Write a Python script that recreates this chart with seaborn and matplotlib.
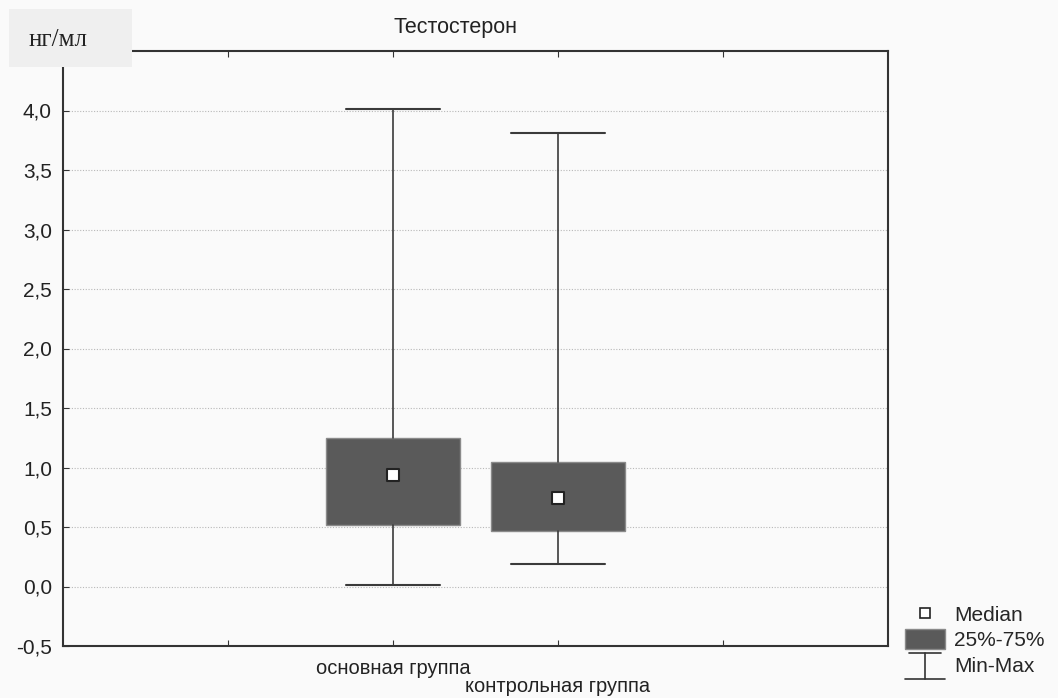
import matplotlib
matplotlib.use("Agg")
import matplotlib.pyplot as plt
import seaborn as sns
import numpy as np
from matplotlib.lines import Line2D
from matplotlib.patches import Patch, Rectangle
from matplotlib.legend_handler import HandlerBase
from matplotlib.ticker import FuncFormatter

# ---- data ----
categories = ["основная группа", "контрольная группа"]
mins = [0.01, 0.19]
q1 = [0.52, 0.47]
medians = [0.94, 0.74]
q3 = [1.25, 1.05]
maxs = [4.01, 3.81]
yticks = [-0.5, 0.0, 0.5, 1.0, 1.5, 2.0, 2.5, 3.0, 3.5, 4.0]
title = "Тестостерон"
ylabel = "нг/мл"
legend_labels = ["Median", "25%-75%", "Min-Max"]

sns.set_style("white")
plt.rcParams['font.family'] = ['Liberation Sans', 'DejaVu Sans']

BG = "#fafafa"
fig = plt.figure(figsize=(10.58, 6.98), dpi=100, facecolor=BG)
ax = fig.add_axes([63/1058, 1-646/698, (888-63)/1058, (646-51)/698])
ax.set_facecolor(BG)

positions = [1, 2]
stats = [dict(whislo=mins[i], q1=q1[i], med=medians[i], q3=q3[i], whishi=maxs[i], label=categories[i])
         for i in range(len(categories))]
ax.bxp(stats, positions=positions, widths=0.81, showfliers=False, patch_artist=True,
       boxprops=dict(facecolor="#5a5a5a", edgecolor="#8a8a8a", linewidth=1.0),
       whiskerprops=dict(color="#3a3a3a", linewidth=1.2),
       capprops=dict(color="#3a3a3a", linewidth=1.5),
       medianprops=dict(linewidth=0), capwidths=0.57, manage_ticks=False, zorder=3)

sns.scatterplot(x=positions, y=medians, marker="s", s=65, color="white",
                edgecolor="#222222", linewidth=1.5, ax=ax, zorder=5, legend=False)

ax.set_xlim(-1, 4)
ax.set_ylim(-0.5, 4.5)
ax.set_yticks(yticks)
ax.yaxis.set_major_formatter(FuncFormatter(lambda v, p: f"{v:.1f}".replace(".", ",")))
ax.set_xticks([0, 1, 2, 3])
ax.set_xticklabels(["", categories[0], "\n" + categories[1], ""])
ax.tick_params(axis="x", direction="in", length=4, top=True, bottom=True, labelsize=14.5,
               color="#333333", labelcolor="#222222", pad=9)
ax.tick_params(axis="y", direction="in", length=4, left=True, labelsize=15,
               color="#333333", labelcolor="#222222", pad=8)
for lbl in ax.get_xticklabels():
    lbl.set_linespacing(0.95)
for s in ax.spines.values():
    s.set_color("#333333")
    s.set_linewidth(1.5)
    s.set_visible(True)
ax.yaxis.grid(True, linestyle=(0, (1, 1.5)), color="#b8b8b8", linewidth=0.8)
ax.set_axisbelow(True)

fig.text(455/1058, 1-28/698, title, ha="center", va="center", fontsize=15.5, color="#222222")

# unit label box
fig.patches.append(Rectangle((9/1058, 1-67/698), 123/1058, 58/698, transform=fig.transFigure,
                             facecolor="#efefef", edgecolor="none", zorder=0))
fig.text(58/1058, 1-40/698, ylabel, ha="center", va="center", fontsize=18,
         family=["Liberation Serif", "DejaVu Serif"], color="#222222")


class HandlerMinMax(HandlerBase):
    def create_artists(self, legend, orig_handle, xdescent, ydescent, width, height, fontsize, trans):
        cx = width / 2 - xdescent
        top = height - ydescent + 1
        bot = -ydescent - 3
        l1 = Line2D([0.1 * width, 0.9 * width], [top, top], color="#333333", lw=1.2)
        l2 = Line2D([cx, cx], [bot, top], color="#333333", lw=1.2)
        l3 = Line2D([0, width], [bot, bot], color="#333333", lw=1.2)
        for l in (l1, l2, l3):
            l.set_transform(trans)
        return [l1, l2, l3]


h_med = Line2D([], [], marker="s", linestyle="none", markerfacecolor="white",
               markeredgecolor="#222222", markersize=7, markeredgewidth=1.2)
h_box = Patch(facecolor="#5a5a5a", edgecolor="#8a8a8a")
h_mm = object()
fig.legend([h_med, h_box, h_mm], legend_labels, handler_map={object: HandlerMinMax()},
           loc="upper left", bbox_to_anchor=(905/1058, 1-604/698), frameon=False,
           fontsize=15, handlelength=1.9, handleheight=1.1, handletextpad=0.45,
           labelspacing=0.2, borderpad=0, borderaxespad=0)

fig.savefig("out.png", dpi=100, facecolor=BG)
